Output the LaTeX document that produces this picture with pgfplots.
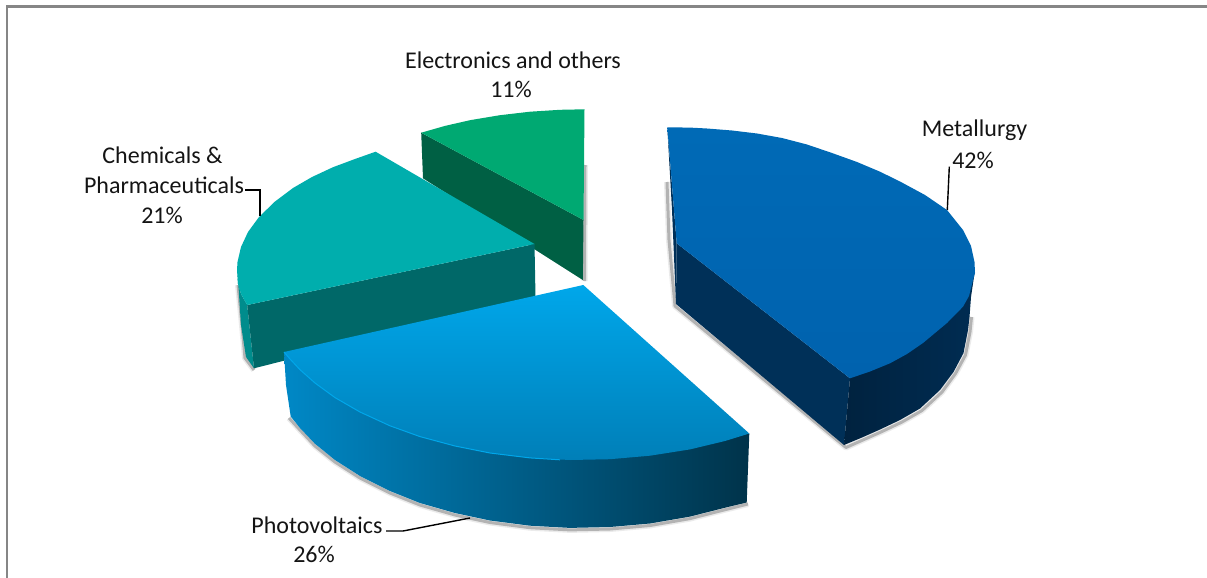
\documentclass[border=0pt]{standalone}
\usepackage{pgfplots}
\pgfplotsset{compat=1.18}
\usepackage{fontspec}
\setmainfont{Carlito}
\definecolor{mtop}{HTML}{006AB6}
\definecolor{mtopb}{HTML}{0062AE}
\definecolor{mside}{HTML}{003058}
\definecolor{mwall}{HTML}{00223F}
\definecolor{mwallr}{HTML}{002C52}
\definecolor{ptop}{HTML}{00A7EA}
\definecolor{ptopm}{HTML}{009CDD}
\definecolor{ptopb}{HTML}{007FB8}
\definecolor{pwl}{HTML}{0088C6}
\definecolor{pwm}{HTML}{005A85}
\definecolor{pwr}{HTML}{00334A}
\definecolor{ctop}{HTML}{00AEAD}
\definecolor{cside}{HTML}{006868}
\definecolor{csl}{HTML}{008C8C}
\definecolor{etop}{HTML}{00A972}
\definecolor{eside}{HTML}{006044}
\definecolor{txt}{HTML}{141414}
\newcommand{\lab}[1]{{\fontsize{24}{26}\selectfont\color{txt}#1}}
\pgfplotsset{
  shad1/.style={draw=black,line width=6pt,opacity=0.08,line join=round,fill=none,no markers},
  shad2/.style={draw=black,line width=3pt,opacity=0.24,line join=round,fill=none,no markers},
  flat/.style={draw=none,no markers},
  lead/.style={draw=black,line width=1.4pt,no markers},
}
\begin{document}
\begin{tikzpicture}
\useasboundingbox (0,0) rectangle (1207pt,578pt);
\begin{axis}[
  at={(0,0)},anchor=south west,
  scale only axis,width=1207pt,height=578pt,
  xmin=0,xmax=1207,ymin=0,ymax=578,y dir=reverse,
  hide axis,clip=false,
]
% frame
\addplot[draw=gray!95,line width=2.4pt,no markers] coordinates {(7,578) (7,6.5) (1207,6.5)};
% shadows
\addplot[shad1] coordinates {(667,182) (669,240) (675,306) (846,447.5) (864,439.5) (882,431.5) (902,422) (922,410.5) (942,392) (955.5,373.5) (965.5,355) (970,332) (971.5,317)};
\addplot[shad2] coordinates {(667,182) (669,240) (675,306) (846,447.5) (864,439.5) (882,431.5) (902,422) (922,410.5) (942,392) (955.5,373.5) (965.5,355) (970,332) (971.5,317)};
\addplot[shad1] coordinates {(585,165) (584.5,281)};
\addplot[shad2] coordinates {(585,165) (584.5,281)};
\addplot[shad1] coordinates {(238,285) (242,325) (245,358) (254,370)};
\addplot[shad2] coordinates {(238,285) (242,325) (245,358) (254,370)};
\addplot[shad1] coordinates {(289,418) (300,430) (315,446) (335,462) (360,478) (390,493) (420,505) (455,515) (490,522.5) (530,527.7) (570,529.9) (610,529) (650,525.5) (690,518.6) (725,509.7) (748,504)};
\addplot[shad2] coordinates {(289,418) (300,430) (315,446) (335,462) (360,478) (390,493) (420,505) (455,515) (490,522.5) (530,527.7) (570,529.9) (610,529) (650,525.5) (690,518.6) (725,509.7) (748,504)};
% Electronics and others
\addplot[flat,fill=eside] coordinates {(421.2,132.7) (583.5,220) (582.8,280) (423,178.3)} -- cycle;
\addplot[flat,fill=etop] coordinates {(421.2,132.7) (445,125.9) (470,120.2) (500,115.2) (530,111.7) (560,109.8) (584.5,109.3) (583.5,220)} -- cycle;
% Chemicals & Pharmaceuticals
\addplot[flat,fill=csl] coordinates {(237,270) (238,284) (241,294) (247.2,305) (254,368.3) (246,357) (241,325) (238.7,290)} -- cycle;
\addplot[flat,fill=cside] coordinates {(247.2,305) (534.5,244) (535.5,297) (254,368.3)} -- cycle;
\addplot[flat,fill=ctop] coordinates {(375.6,151.7) (534.5,244) (247.2,305) (241,294) (238,284) (237,270) (237.5,262) (241,247) (248,232) (259,217) (275,201.5) (293,188) (312,177) (333,167.2) (355,159)} -- cycle;
% Photovoltaics
\addplot[flat,left color=pwl,middle color=pwm,right color=pwr] coordinates {(284,352) (286,385) (290.7,416.5) (300,428) (315,443.8) (335,460) (360,476) (390,491) (420,503) (455,513) (490,520.5) (530,525.7) (570,527.9) (610,527) (650,523.5) (690,516.6) (725,507.7) (746.7,502.5) (749.3,433.5) (600,440)} -- cycle;
\addplot[flat,top color=ptop,middle color=ptopm,bottom color=ptopb] coordinates {(583.3,285) (749.3,433.5) (725,441) (690,449.4) (650,455.7) (610,459.2) (570,460) (530,457.9) (490,453) (455,446) (420,436.6) (390,425.8) (360,412) (335,397.6) (315,383) (300,369.7) (290,359) (284,352)} -- cycle;
\addplot[draw=ptop,line width=1pt,no markers] coordinates {(284,352) (290,359) (300,369.7) (315,383) (335,397.6) (360,412) (390,425.8) (420,436.6) (455,446) (490,453) (530,457.9) (560,459.8)};
% Metallurgy
\addplot[flat,fill=mside] coordinates {(667.3,127.3) (676.7,243.3) (676,304) (672,210)} -- cycle;
\addplot[flat,fill=mside] coordinates {(676.7,243.3) (850,378.3) (844,445) (676,304)} -- cycle;
\addplot[flat,left color=mwall,right color=mwallr] coordinates {(850,378.3) (975,270) (971,297) (969.5,317) (968,330) (963.5,353) (953.5,372) (940,390) (920,408.5) (900,420) (880,429.5) (862,437.5) (844,445)} -- cycle;
\addplot[flat,top color=mtop,bottom color=mtopb] coordinates {(667.3,127.3) (690,127.6) (707,128.5) (732,130.5) (757,133.5) (782,138) (807,144.5) (832,153) (857,162) (880,171.7) (900,181.5) (925,195) (947,210) (963,230) (971,246) (974.5,262) (975,273) (973,280) (969,296) (963,306.7) (947,323) (923,343) (907,354) (890,363.3) (870,371.5) (850,378.3) (676.7,243.3)} -- cycle;
% leader lines
\addplot[lead] coordinates {(949.3,166.7) (947.3,210)};
\addplot[lead] coordinates {(245,190) (260,190) (260,216)};
\addplot[lead] coordinates {(386,531) (403,531) (470,518)};
% labels
\node at (axis cs:513,60) {\lab{Electronics and others}};
\node at (axis cs:511,89) {\lab{11\%}};
\node at (axis cs:974.5,130) {\lab{Metallurgy}};
\node at (axis cs:973,160) {\lab{42\%}};
\node at (axis cs:162.5,155) {\lab{Chemicals \&}};
\node at (axis cs:164,185) {\lab{Pharmaceuticals}};
\node at (axis cs:162,215) {\lab{21\%}};
\node at (axis cs:317,525) {\lab{Photovoltaics}};
\node at (axis cs:314,554) {\lab{26\%}};
\end{axis}
\end{tikzpicture}
\end{document}
